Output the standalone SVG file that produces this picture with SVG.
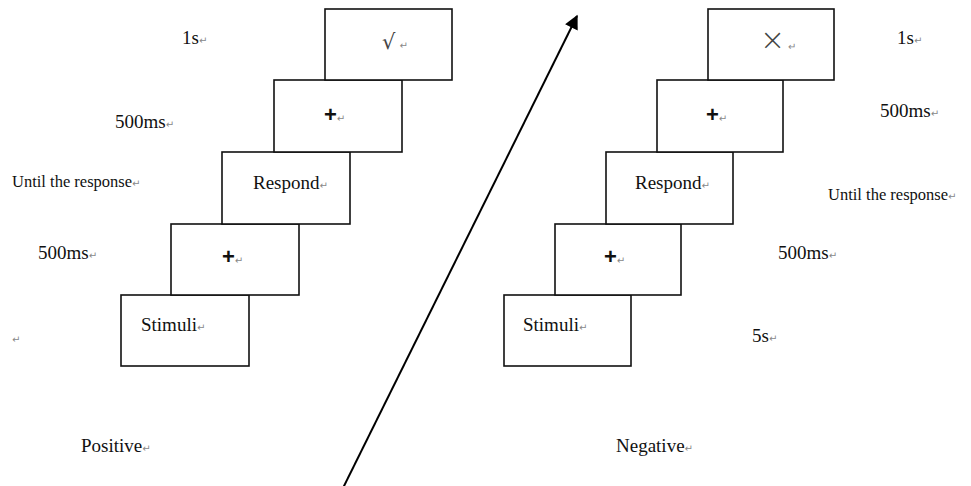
<svg xmlns="http://www.w3.org/2000/svg" width="971" height="486" viewBox="0 0 971 486">
<style>
.box{fill:#fff;stroke:#111;stroke-width:1.6}
.t{font-family:"Liberation Serif","Times New Roman",serif;font-size:19px;fill:#111}
.s{font-family:"Liberation Serif","Times New Roman",serif;font-size:16.5px;fill:#111}
.r{font-family:"DejaVu Sans",sans-serif;font-size:10px;fill:#888}
.p{font-family:"Liberation Sans",sans-serif;font-size:22px;font-weight:bold;fill:#111}
.sym{font-family:"DejaVu Sans",sans-serif;fill:#444}
</style>
<defs>
<marker id="ah" viewBox="0 0 10 10" refX="9" refY="5" markerWidth="7.5" markerHeight="7" orient="auto" markerUnits="strokeWidth">
<path d="M0,0 L10,5 L0,10 z" fill="#000"/>
</marker>
</defs>
<rect width="971" height="486" fill="#fff"/>

<g id="connectors">
<line x1="343" y1="488" x2="577" y2="16" stroke="#000" stroke-width="2" marker-end="url(#ah)"/>
</g>

<!-- Left sequence -->
<g id="L5-stimuli">
<rect class="box" x="121" y="295" width="128" height="71"/>
<text class="t" x="141" y="331">Stimuli<tspan class="r">↵</tspan></text>
</g>
<g id="L4-fix">
<rect class="box" x="171" y="224" width="128" height="71"/>
<text class="p" x="222" y="264">+<tspan class="r" font-weight="normal">↵</tspan></text>
</g>
<g id="L3-respond">
<rect class="box" x="222" y="152" width="128" height="72"/>
<text class="t" x="253" y="189">Respond<tspan class="r">↵</tspan></text>
</g>
<g id="L2-fix">
<rect class="box" x="274" y="80" width="128" height="72"/>
<text class="p" x="324" y="122">+<tspan class="r" font-weight="normal">↵</tspan></text>
</g>
<g id="L1-feedback">
<rect class="box" x="325" y="9" width="127" height="71"/>
<text class="sym" x="382" y="49" font-size="21">√<tspan class="r" dx="4">↵</tspan></text>
</g>

<!-- Right sequence -->
<g id="R5-stimuli">
<rect class="box" x="504" y="295" width="127" height="71"/>
<text class="t" x="523" y="331">Stimuli<tspan class="r">↵</tspan></text>
</g>
<g id="R4-fix">
<rect class="box" x="555" y="224" width="126" height="71"/>
<text class="p" x="604" y="264">+<tspan class="r" font-weight="normal">↵</tspan></text>
</g>
<g id="R3-respond">
<rect class="box" x="606" y="152" width="127" height="72"/>
<text class="t" x="635" y="189">Respond<tspan class="r">↵</tspan></text>
</g>
<g id="R2-fix">
<rect class="box" x="657" y="80" width="126" height="72"/>
<text class="p" x="706" y="122">+<tspan class="r" font-weight="normal">↵</tspan></text>
</g>
<g id="R1-feedback">
<rect class="box" x="708" y="9" width="126" height="71"/>
<text class="sym" x="760" y="50" font-size="30" font-weight="200">×<tspan class="r" dx="3">↵</tspan></text>
</g>

<!-- Left labels -->
<g id="labels-left">
<text class="t" x="182" y="44">1s<tspan class="r">↵</tspan></text>
<text class="t" x="115" y="128">500ms<tspan class="r">↵</tspan></text>
<text class="s" x="12" y="187">Until the response<tspan class="r">↵</tspan></text>
<text class="t" x="38" y="259">500ms<tspan class="r">↵</tspan></text>
<text class="r" x="12" y="343">↵</text>
<text class="t" x="81" y="452">Positive<tspan class="r">↵</tspan></text>
</g>

<!-- Right labels -->
<g id="labels-right">
<text class="t" x="897" y="44">1s<tspan class="r">↵</tspan></text>
<text class="t" x="880" y="117">500ms<tspan class="r">↵</tspan></text>
<text class="s" x="828" y="200">Until the response<tspan class="r">↵</tspan></text>
<text class="t" x="778" y="259">500ms<tspan class="r">↵</tspan></text>
<text class="t" x="752" y="342">5s<tspan class="r">↵</tspan></text>
<text class="t" x="616" y="452">Negative<tspan class="r">↵</tspan></text>
</g>
</svg>
